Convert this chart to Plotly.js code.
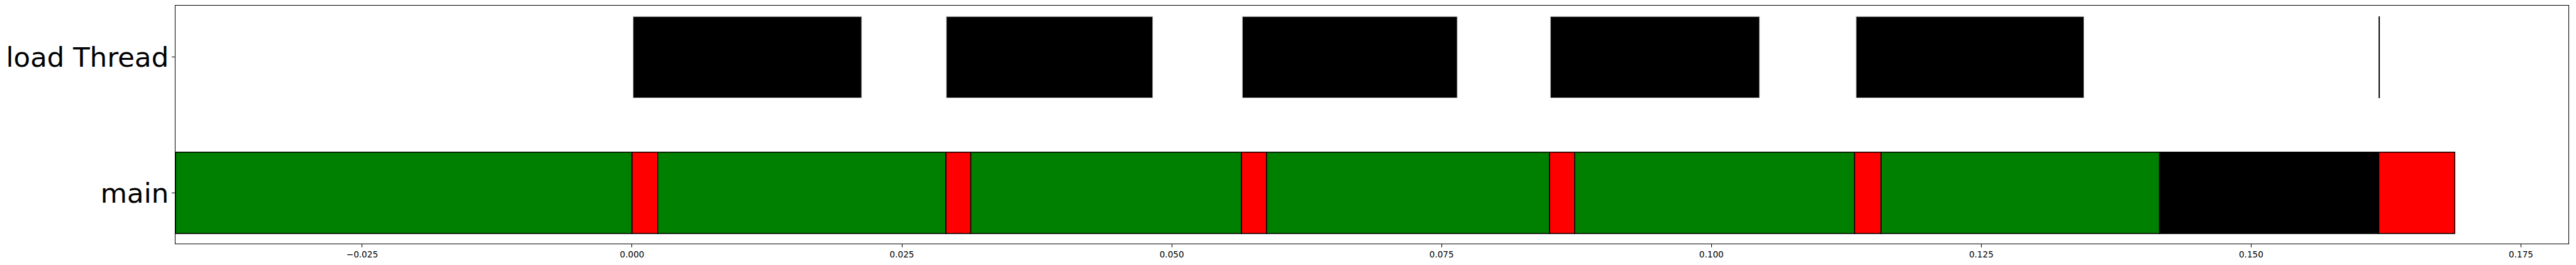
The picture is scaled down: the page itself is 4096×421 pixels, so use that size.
<!DOCTYPE html>
<html>
<head>
<meta charset="utf-8">
<script src="https://cdn.plot.ly/plotly-3.0.1.min.js"></script>
<style>
  html, body { margin: 0; padding: 0; background: #fff; }
  #chart { width: 4096px; height: 421px; }
</style>
</head>
<body>
<div id="chart"></div>
<script>
// ---- data ----
const categories = ['main', 'load Thread'];

// main thread segments (start, end in seconds) and their colours
const mainStarts = [-0.0423, 0.0000, 0.00238, 0.02908, 0.03138, 0.05646, 0.05879, 0.08500, 0.08733, 0.11326, 0.11572, 0.14151, 0.16183];
const mainEnds   = [ 0.0000, 0.00238, 0.02908, 0.03138, 0.05646, 0.05879, 0.08500, 0.08733, 0.11326, 0.11572, 0.14151, 0.16183, 0.16887];
const mainColors = ['green', 'red', 'green', 'red', 'green', 'red', 'green', 'red', 'green', 'red', 'green', 'black', 'red'];

// load thread busy intervals
const loadStarts = [0.0001, 0.02912, 0.05654, 0.08508, 0.11340, 0.16184];
const loadEnds   = [0.02127, 0.04824, 0.07645, 0.10446, 0.13451, 0.16190];
const loadEdges  = ['#cfcfcf', '#cfcfcf', '#cfcfcf', '#cfcfcf', '#cfcfcf', 'black'];

const xTickVals   = [-0.025, 0.000, 0.025, 0.050, 0.075, 0.100, 0.125, 0.150, 0.175];
const xTickLabels = ['\u22120.025', '0.000', '0.025', '0.050', '0.075', '0.100', '0.125', '0.150', '0.175'];

// ---- build chart ----
const S = 0.982;
const FONT = 'DejaVu Sans, sans-serif';

const traceMain = {
  type: 'bar',
  orientation: 'h',
  y: mainStarts.map(() => categories[0]),
  base: mainStarts,
  x: mainStarts.map((s, i) => mainEnds[i] - s),
  width: 0.6,
  marker: { color: mainColors, line: { color: 'black', width: 1.5 * S } },
  hoverinfo: 'skip'
};

const traceLoad = {
  type: 'bar',
  orientation: 'h',
  y: loadStarts.map(() => categories[1]),
  base: loadStarts,
  x: loadStarts.map((s, i) => loadEnds[i] - s),
  width: 0.6,
  marker: { color: 'black', line: { color: loadEdges, width: 1 * S } },
  hoverinfo: 'skip'
};

const layout = {
  width: 4096,
  height: 421,
  margin: { l: 279, r: 12, t: 9, b: 34, pad: 0 },
  barmode: 'overlay',
  showlegend: false,
  paper_bgcolor: 'white',
  plot_bgcolor: 'white',
  font: { family: FONT, color: 'black' },
  xaxis: {
    range: [-0.0423, 0.1794],
    tickmode: 'array',
    tickvals: xTickVals,
    ticktext: xTickLabels,
    ticks: 'outside',
    ticklen: 4.8,
    tickwidth: 1,
    tickcolor: 'black',
    showline: true,
    mirror: true,
    linecolor: 'black',
    linewidth: 1.1,
    showgrid: false,
    zeroline: false,
    tickfont: { family: FONT, size: 13.6, color: 'black' }
  },
  yaxis: {
    type: 'category',
    categoryorder: 'array',
    categoryarray: categories,
    range: [-0.374, 1.38],
    ticks: 'outside',
    ticklen: 4.8,
    tickwidth: 1,
    tickcolor: 'black',
    ticklabelstandoff: -4,
    showline: true,
    mirror: true,
    linecolor: 'black',
    linewidth: 1.1,
    showgrid: false,
    zeroline: false,
    tickfont: { family: FONT, size: 43.5, color: 'black' }
  }
};

Plotly.newPlot('chart', [traceMain, traceLoad], layout, { staticPlot: true, displayModeBar: false });
</script>
</body>
</html>
